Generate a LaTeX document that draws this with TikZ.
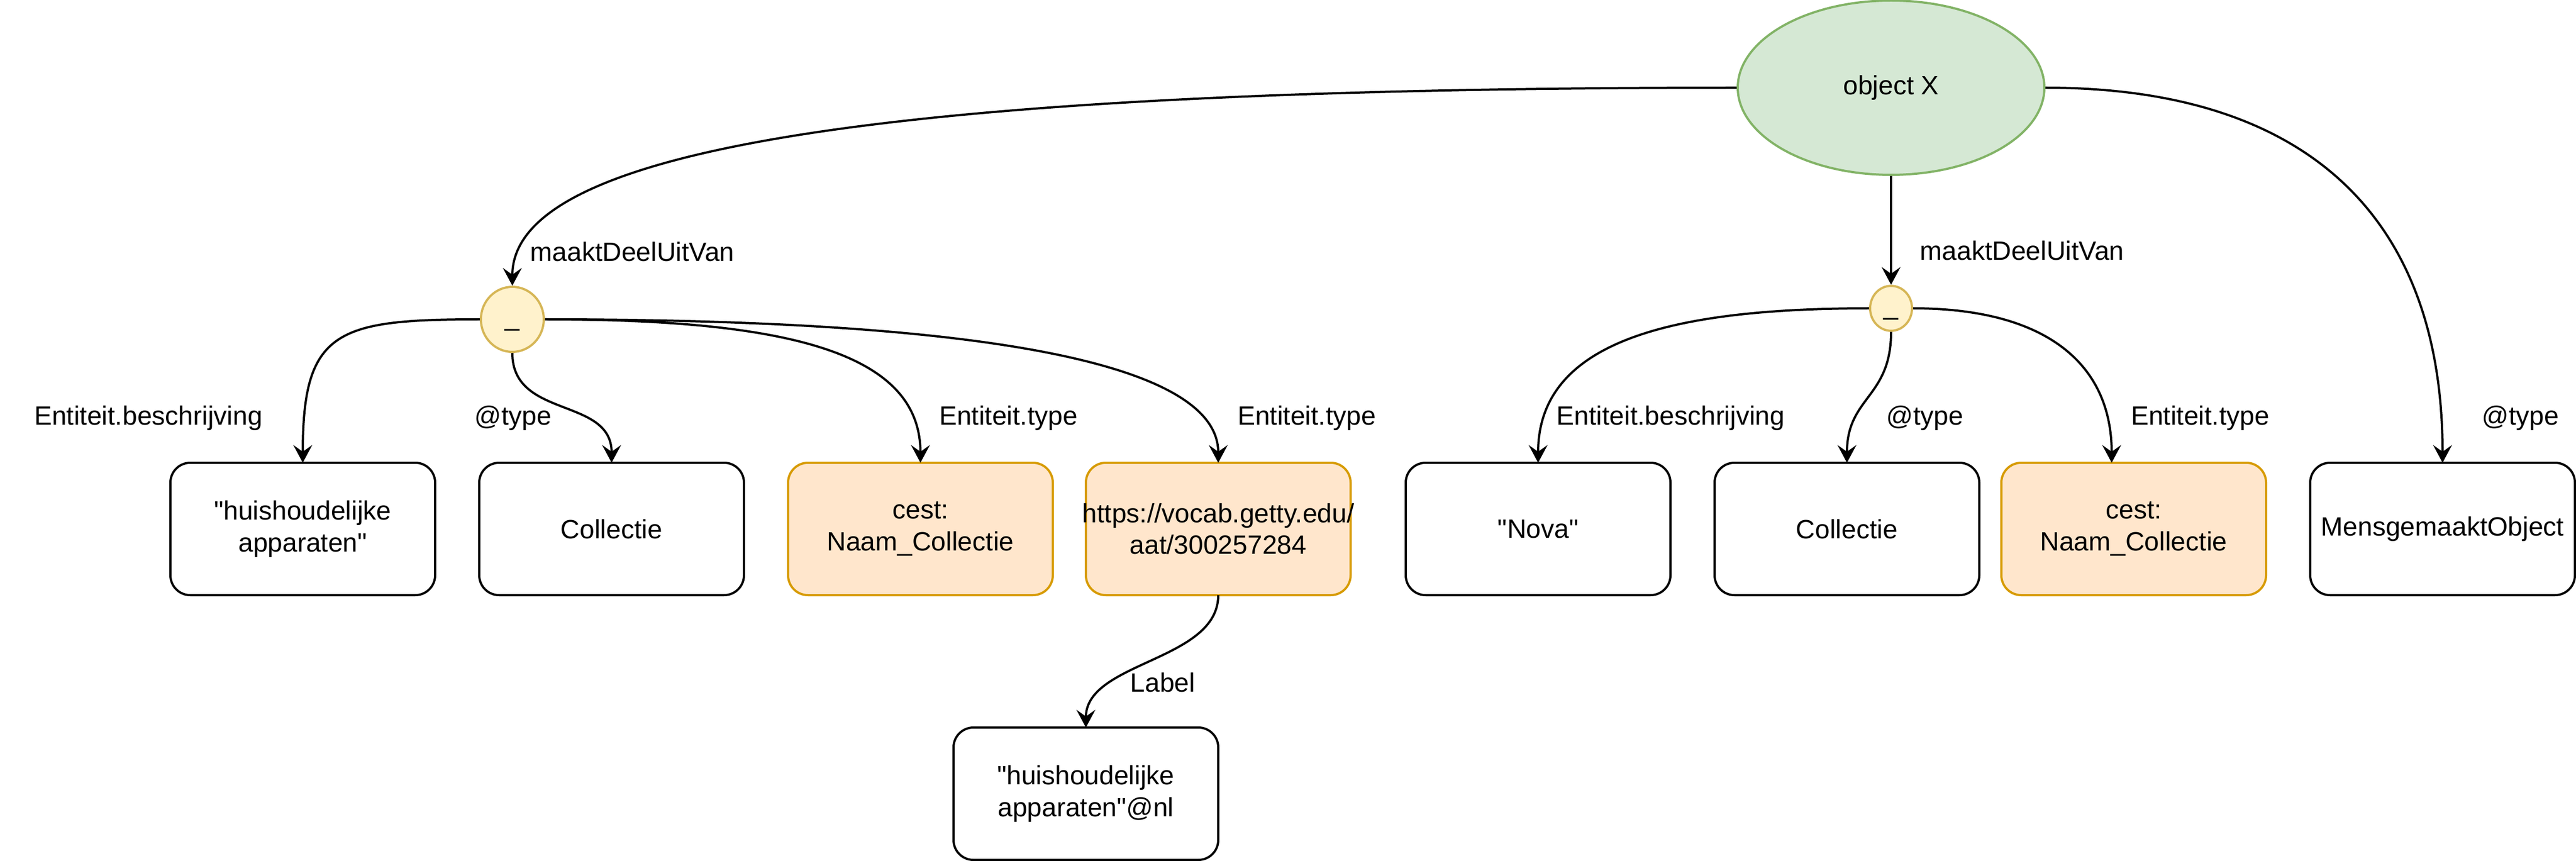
\documentclass[tikz,border=0pt]{standalone}
\usepackage{fontspec}
\setmainfont{Liberation Sans}[Ligatures=TeXOff]
\usetikzlibrary{arrows.meta,positioning,shapes.geometric}

\definecolor{objfill}{HTML}{D5E8D4}
\definecolor{objline}{HTML}{82B366}
\definecolor{blankfill}{HTML}{FFF2CC}
\definecolor{blankline}{HTML}{D6B656}
\definecolor{klassefill}{HTML}{FFE6CC}
\definecolor{klasseline}{HTML}{D79B00}

\begin{document}
\begin{tikzpicture}[->,>={Stealth[length=8pt,width=8.5pt,inset=3pt]},x=1pt,y=1pt,
                    node distance=20pt,line width=1pt,
                    font=\fontsize{12}{14.4}\selectfont]
  \tikzstyle{res}=[draw=black,fill=white,rounded corners=9pt,minimum width=120pt,
                   minimum height=60pt,inner sep=0pt,outer sep=0pt,align=center]
  \tikzstyle{klasse}=[res,draw=klasseline,fill=klassefill]
  \tikzstyle{blank}=[ellipse,draw=blankline,fill=blankfill,inner sep=0pt]
  \tikzstyle{prop}=[at end,anchor=center,inner sep=0pt]

  \useasboundingbox (0,0) rectangle (1167.75,-390.25);

  \node[ellipse,draw=objline,fill=objfill,minimum width=139pt,minimum height=79pt]
        (obj) at (857.25,-39.75) {object X};
  \node[blank,minimum width=28.5pt,minimum height=29.5pt] (bn1) at (232.25,-144.75) {\strut\_};
  \node[blank,minimum width=19pt,minimum height=19.5pt]   (bn2) at (857.25,-139.75) {\strut\_};

  \node[res]    (beschr1) at (137.25,-239.75)     {"huishoudelijke\\apparaten"};
  \node[res]    (coll1)   [right=of beschr1]      {Collectie};
  \node[klasse] (naam1)   [right=of coll1]        {cest:\\Naam\_Collectie};
  \node[klasse] (aat)     [right=15pt of naam1]   {\makebox[100pt]{https://vocab.getty.edu/}\\aat/300257284};
  \node[res]    (beschr2) [right=25pt of aat]     {"Nova"};
  \node[res]    (coll2)   [right=of beschr2]      {Collectie};
  \node[klasse] (naam2)   [right=10pt of coll2]   {cest:\\Naam\_Collectie};
  \node[res]    (mens)    [right=of naam2]        {MensgemaaktObject};
  \node[res]    (label)   [below=60pt of aat,xshift=-60pt] {"huishoudelijke\\apparaten"@nl};

  \path (obj) edge[out=180,in=90,out distance=400pt,in distance=60pt]
              node[prop,xshift=54.4pt,yshift=15.5pt] {maaktDeelUitVan} (bn1)
              edge node[prop,xshift=59.4pt,yshift=15.5pt] {maaktDeelUitVan} (bn2)
              edge[out=0,in=90,out distance=120pt,in distance=110pt]
              node[prop,xshift=35.35pt,yshift=20.25pt] {@type} (mens)
        (bn1) edge[out=180,in=90,out distance=65pt,in distance=60pt]
              node[prop,xshift=-70pt,yshift=20.25pt] {Entiteit.beschrijving} (beschr1)
              edge[out=-90,in=90,out distance=30pt,in distance=30pt]
              node[prop,xshift=-44.65pt,yshift=20.25pt] {@type} (coll1)
              edge[out=0,in=90,out distance=110pt,in distance=50pt]
              node[prop,xshift=39.85pt,yshift=20.25pt] {Entiteit.type} (naam1)
              edge[out=0,in=90,out distance=200pt,in distance=45pt]
              node[prop,xshift=40.15pt,yshift=20.25pt] {Entiteit.type} (aat)
        (bn2) edge[out=180,in=90,out distance=90pt,in distance=55pt]
              node[prop,xshift=60.15pt,yshift=20.25pt] {Entiteit.beschrijving} (beschr2)
              edge[out=-90,in=90,out distance=30pt,in distance=30pt]
              node[prop,xshift=35.25pt,yshift=20.25pt] {@type} (coll2)
              edge[out=0,in=90,out distance=60pt,in distance=45pt]
              node[prop,xshift=40.15pt,yshift=20.25pt] {Entiteit.type} ([xshift=-10pt]naam2.north)
        (aat) edge[out=-90,in=90,out distance=30pt,in distance=30pt]
              node[prop,xshift=34.85pt,yshift=20.5pt] {Label} (label)
        ;
\end{tikzpicture}
\end{document}
